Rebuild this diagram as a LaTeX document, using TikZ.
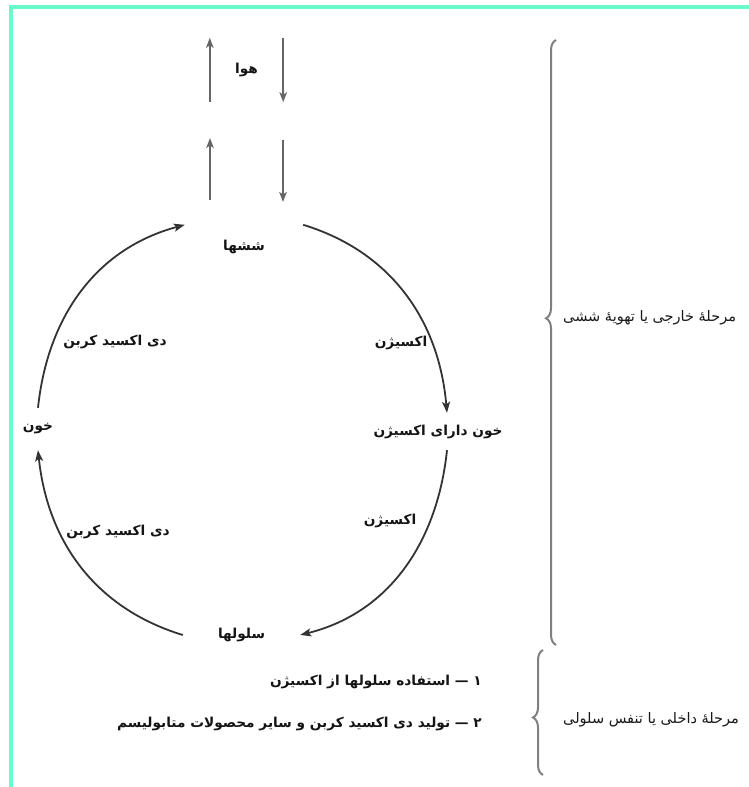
\documentclass[tikz,border=0pt]{standalone}
\usepackage{fontspec}
\usepackage{tikz}
\usetikzlibrary{arrows.meta,positioning,calc,decorations.pathreplacing}

\newfontfamily\farsi[Script=Arabic]{DejaVu Sans}
\TeXXeTstate=1
\definecolor{frameaqua}{RGB}{104,252,204}
\newcommand{\fatext}[1]{\farsi\beginR #1\endR}

\begin{document}
\begin{tikzpicture}[x=1pt, y=1pt,
  lbl/.style={font=\farsi\bfseries\fontsize{13.7}{16}\selectfont, text=black!92, inner sep=0pt},
  side/.style={font=\farsi\fontsize{14.5}{17}\selectfont, text=black!90, inner sep=0pt, anchor=west},
  bloodflow/.style={-{Stealth[length=11pt,width=8pt,inset=2.5pt]}, line width=1.8pt, black!80},
  airflow/.style={-{Stealth[length=10pt,width=7.5pt,inset=2.5pt]}, line width=1.8pt, black!60},
  bracket/.style={decorate, line width=2pt, black!50}]
  \useasboundingbox (0,0) rectangle (749,-787);

  % Frame
  \fill[frameaqua] (9,-5) rectangle (749,-9);
  \fill[frameaqua] (9,-5) rectangle (13,-787);

  % Stations of the cycle
  \node[lbl, minimum width=73, minimum height=64] (air) at (246.5,-70) {\fatext{هوا}};
  \node[lbl, minimum width=118, minimum height=44] (lungs) at (244,-247) {\fatext{ششها}};
  \node[lbl, minimum height=42] (blood) at (38,-429) {\fatext{خون}};
  \node[lbl, minimum height=37] (oxblood) at (438,-431.5) {\fatext{خون دارای اکسیژن}};
  \node[lbl, minimum width=117] (cells) at (241.5,-635) {\fatext{سلولها}};

  % Breathing in and out
  \coordinate (tubeL) at (210,-200);
  \coordinate (neckL) at (210,-138);
  \coordinate (neckR) at (283,-140);
  \coordinate (tubeR) at (283,-202);
  \draw[airflow] (air.south west) -- (air.north west);
  \draw[airflow] (air.north east) -- (air.south east);
  \draw[airflow] (tubeL) -- (neckL);
  \draw[airflow] (neckR) -- (tubeR);

  % Blood circle
  \draw[bloodflow] (blood.north) to[out=84, in=195] (lungs.north west);
  \draw[bloodflow] (lungs.north east) to[out=-17, in=95] ([xshift=9]oxblood.north);
  \draw[bloodflow] ([xshift=9]oxblood.south) to[out=-96, in=14] (cells.east);
  \draw[bloodflow] (cells.west) to[out=163, in=-84] (blood.south);

  % Gases carried
  \node[lbl] (co2up) at (115,-342) {\fatext{دی اکسید کربن}};
  \node[lbl] (co2down) at (118,-532) {\fatext{دی اکسید کربن}};
  \node[lbl] (o2up) at (401,-343) {\fatext{اکسیژن}};
  \node[lbl] (o2down) at (390,-521) {\fatext{اکسیژن}};

  % Inside the cells
  \node[lbl, anchor=east] (use) at (482,-682) {\fatext{۱ — استفاده سلولها از اکسیژن}};
  \node[lbl, anchor=east] (make) at (482,-724) {\fatext{۲ — تولید دی اکسید کربن و سایر محصولات متابولیسم}};

  % Two stages
  \draw[bracket, decoration={brace, mirror, amplitude=10pt, aspect=0.46}] (556,-40) -- (556,-645);
  \draw[bracket, decoration={brace, mirror, amplitude=10pt, aspect=0.54}] (543,-650) -- (543,-775);
  \node[side] (outer) at (563,-318) {\fatext{مرحلهٔ خارجی یا تهویهٔ ششی}};
  \node[side] (inner) at (563,-720) {\fatext{مرحلهٔ داخلی یا تنفس سلولی}};
\end{tikzpicture}
\end{document}
